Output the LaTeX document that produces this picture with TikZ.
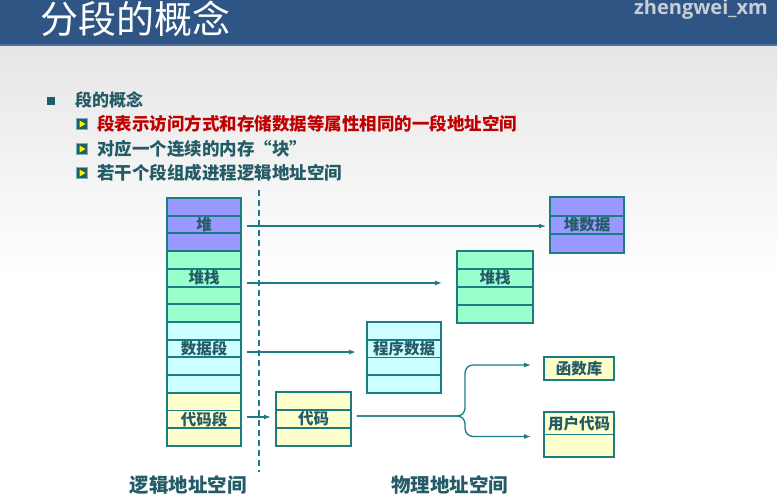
\documentclass[tikz,border=0pt]{standalone}
\usepackage{fontspec}
\usetikzlibrary{arrows.meta,calc}
\newfontfamily\cjk{Noto Sans CJK SC}
\newfontfamily\wm{Open Sans}
\definecolor{hdr}{HTML}{2E5584}
\definecolor{hdrline}{HTML}{4C6E9C}
\definecolor{bgtop}{HTML}{E6E6E6}
\definecolor{bord}{HTML}{1B7C82}
\definecolor{tealtext}{HTML}{235B66}
\definecolor{redtext}{HTML}{C00000}
\definecolor{purp}{HTML}{9999FF}
\definecolor{grn}{HTML}{99FFCC}
\definecolor{cyn}{HTML}{CCFFFF}
\definecolor{ylw}{HTML}{FFFFCC}
\definecolor{wmark}{HTML}{C9CED6}
\definecolor{bulletc}{HTML}{1F5F66}
\begin{document}
\begin{tikzpicture}[x=1pt,y=-1pt,
  cell/.style={draw=bord, line width=1.9pt, rectangle, inner sep=0pt, text=tealtext,
    font=\cjk\bfseries\fontsize{15.5}{15.5}\selectfont},
  arr/.style={draw=bord, line width=1.3pt, -{Latex[length=7pt,width=5pt]}},
  bodytext/.style={anchor=west, inner sep=0pt, font=\cjk\bfseries\fontsize{17.5}{18}\selectfont},
  bottomlabel/.style={inner sep=0pt, text=tealtext, font=\cjk\bfseries\fontsize{19.5}{20}\selectfont},
  subbullet/.style={fill=bulletc, draw=bord!60, line width=0.6pt, minimum size=11pt, inner sep=0pt, rectangle}
]
\useasboundingbox (0,0) rectangle (777,498);
% background
\fill[white] (0,0) rectangle (777,498);
\shade[top color=bgtop, bottom color=white] (0,45) rectangle (777,280);
\fill[hdr] (0,0) rectangle (777,44);
\fill[hdrline] (0,44) rectangle (777,45.5);
% header texts
\node[anchor=west, inner sep=0pt, text=white, font=\cjk\fontsize{38}{40}\selectfont] (title) at (40,19) {分段的概念};
\node[anchor=base west, inner sep=0pt, text=wmark, font=\wm\bfseries\fontsize{20}{20}\selectfont] (wm) at (634,14) {zhengwei\_xm};
% bullets
\node[fill=bulletc, minimum size=8pt, inner sep=0pt, rectangle] (b0) at (51,101) {};
\node[bodytext, text=tealtext, font=\cjk\bfseries\fontsize{17}{18}\selectfont] (t0) at (75,100) {段的概念};
\foreach \n/\y in {1/124,2/149,3/173}{
  \node[subbullet] (b\n) at (82,\y) {};
  \fill[yellow] ($(b\n.center)+(-2.5,-3.5)$) -- ($(b\n.center)+(3.5,0)$) -- ($(b\n.center)+(-2.5,3.5)$) -- cycle;
}
\node[bodytext, text=redtext] (t1) at (97,124) {段表示访问方式和存储数据等属性相同的一段地址空间};
\node[bodytext, text=tealtext] (t2) at (97,149) {对应一个连续的内存“块”};
\node[bodytext, text=tealtext] (t3) at (97,173) {若干个段组成进程逻辑地址空间};
% dashed divider
\coordinate (dtop) at (259,190);
\coordinate (dbot) at (259,472);
\draw[bord, line width=1.2pt, dash pattern=on 6pt off 4pt] (dtop) -- (dbot);
% logical column
\foreach \i/\c/\t in {1/purp/{},2/purp/堆,3/purp/{},4/grn/{},5/grn/堆栈,6/grn/{},7/grn/{},8/cyn/{},9/cyn/数据段,10/cyn/{},11/cyn/{},12/ylw/{},13/ylw/代码段,14/ylw/{}}{
  \node[cell, fill=\c, minimum width=74pt, minimum height=17.71pt] (L\i) at (204,{198+(\i-0.5)*17.71}) {\t};
}
% physical: heap data
\foreach \i/\t in {1/{},2/堆数据,3/{}}{
  \node[cell, fill=purp, minimum width=74pt, minimum height=18.67pt] (P\i) at (587,{197+(\i-0.5)*18.67}) {\t};
}
% physical: stack
\foreach \i/\t in {1/{},2/堆栈,3/{},4/{}}{
  \node[cell, fill=grn, minimum width=76pt, minimum height=18pt] (S\i) at (495,{251+(\i-0.5)*18}) {\t};
}
% physical: program data
\foreach \i/\t in {1/{},2/程序数据,3/{},4/{}}{
  \node[cell, fill=cyn, minimum width=74pt, minimum height=17.75pt] (D\i) at (404,{322+(\i-0.5)*17.75}) {\t};
}
% physical: code
\foreach \i/\t in {1/{},2/代码,3/{}}{
  \node[cell, fill=ylw, minimum width=75pt, minimum height=18pt] (C\i) at (313.5,{392+(\i-0.5)*18}) {\t};
}
% library and user code
\node[cell, fill=ylw, minimum width=70pt, minimum height=23pt] (F) at (579,368.5) {函数库};
\node[cell, fill=ylw, minimum width=70pt, minimum height=22.5pt] (U1) at (579,423.25) {用户代码};
\node[cell, fill=ylw, minimum width=70pt, minimum height=22.5pt] (U2) at (579,445.75) {};
% arrows
\coordinate (h1) at ($(L2.east)+(5,1.5)$);
\coordinate (h2) at (h1 -| P2.west);
\draw[arr] (h1) -- ($(h2)+(-3,0)$);
\coordinate (s1) at ($(L5.east)+(5,5.3)$);
\coordinate (s2) at (s1 -| S2.west);
\draw[arr] (s1) -- ($(s2)+(-14,0)$);
\coordinate (d1) at ($(L9.east)+(5,3.5)$);
\coordinate (d2) at (d1 -| D2.west);
\draw[arr] (d1) -- ($(d2)+(-10,0)$);
\coordinate (c1) at ($(L13.east)+(5,-2.4)$);
\coordinate (c2) at (c1 -| C2.west);
\draw[arr] (c1) -- ($(c2)+(-4,0)$);
% branching connector
\coordinate (bs) at ($(C2.east)+(5,-3)$);
\coordinate (fa) at ($(F.west)+(-12,-3.5)$);
\coordinate (ua) at ($(U1.south west)+(-12,1)$);
\coordinate (fj) at ($(fa)+(-66,0)$);
\coordinate (uj) at ($(ua)+(-66,0)$);
\draw[arr, rounded corners=8pt] (bs) -| (fj) -- (fa);
\draw[arr, rounded corners=8pt] (bs) -| (uj) -- (ua);
% bottom labels
\node[bottomlabel] (ll) at (188,485) {逻辑地址空间};
\node[bottomlabel] (pl) at (449.5,485) {物理地址空间};
\end{tikzpicture}
\end{document}
